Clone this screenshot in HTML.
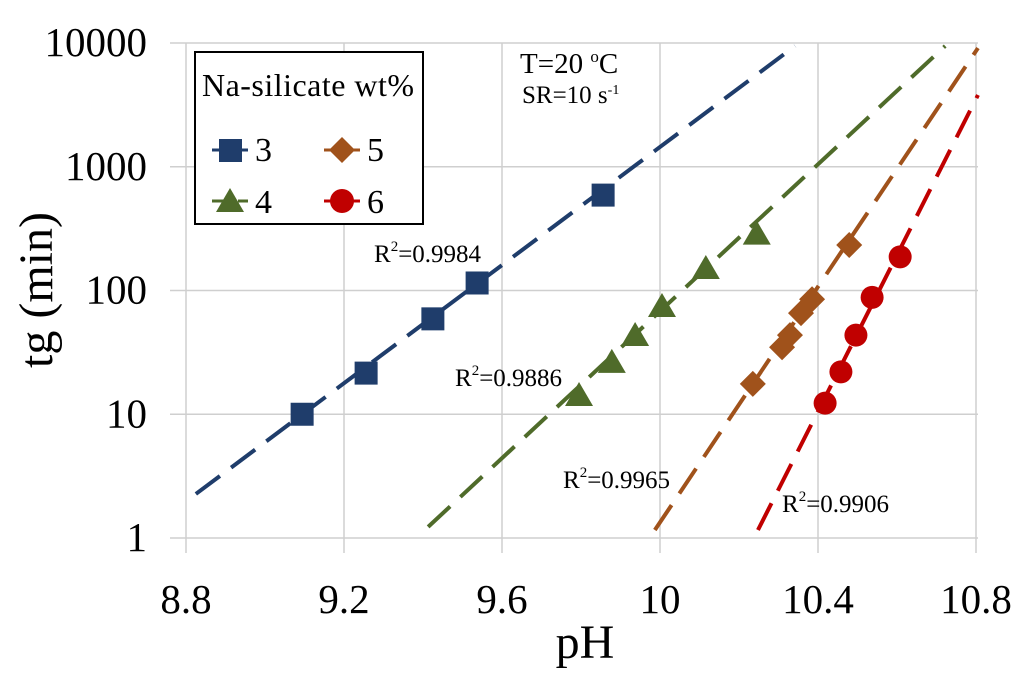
<!DOCTYPE html>
<html><head><meta charset="utf-8"><style>
body{margin:0;background:#fff}
svg text{font-family:"Liberation Serif",serif;fill:#000}
</style></head><body>
<svg id="c" width="1024" height="678" viewBox="0 0 1024 678">
<g id="grid"></g>
<g id="axes"></g>
<g id="series"></g>
<text x="52" y="290" font-size="48" text-anchor="middle" transform="rotate(-90 52 290)">tg (min)</text>
<text x="585" y="658" font-size="48" text-anchor="middle">pH</text>
<g>
<rect x="195" y="52" width="228" height="172" fill="#fff" stroke="#000" stroke-width="2"/>
<text x="308" y="96" font-size="32" text-anchor="middle" textLength="212">Na-silicate wt%</text>
<g><line x1="212" y1="150" x2="248" y2="150" stroke="#1f3d6b" stroke-width="3" stroke-dasharray="22 4"/><rect x="219" y="139" width="23" height="23" fill="#1f3d6b"/><text x="255" y="161" font-size="34">3</text></g>
<g><line x1="324" y1="150" x2="360" y2="150" stroke="#a0521b" stroke-width="3" stroke-dasharray="22 4"/><polygon points="342,137 355,150 342,163 329,150" fill="#a0521b"/><text x="367" y="161" font-size="34">5</text></g>
<g><line x1="212" y1="201" x2="248" y2="201" stroke="#4f6b2a" stroke-width="3" stroke-dasharray="22 4"/><polygon points="230,188 244,212 216,212" fill="#4f6b2a"/><text x="255" y="213" font-size="34">4</text></g>
<g><line x1="324" y1="201" x2="360" y2="201" stroke="#c00000" stroke-width="3" stroke-dasharray="22 4"/><circle cx="342" cy="201" r="12" fill="#c00000"/><text x="367" y="213" font-size="34">6</text></g>
</g>
<text x="520" y="73" font-size="29">T=20 <tspan font-size="17" dy="-11">o</tspan><tspan dy="11">C</tspan></text>
<text x="522" y="103" font-size="25">SR=10 s<tspan font-size="14" dy="-9">-1</tspan></text>
<text x="374" y="262" font-size="25">R<tspan font-size="15" dy="-11">2</tspan><tspan dy="11">=0.9984</tspan></text>
<text x="455" y="386" font-size="25">R<tspan font-size="15" dy="-11">2</tspan><tspan dy="11">=0.9886</tspan></text>
<text x="563" y="488" font-size="25">R<tspan font-size="15" dy="-11">2</tspan><tspan dy="11">=0.9965</tspan></text>
<text x="782" y="512" font-size="25">R<tspan font-size="15" dy="-11">2</tspan><tspan dy="11">=0.9906</tspan></text>
</svg>
<script>
const xTicks=[8.8,9.2,9.6,10,10.4,10.8];
const yTicks=[1,10,100,1000,10000];
const ph3=[9.094,9.256,9.425,9.537,9.856];
const tg3=[10,21.5,59,115,590];
const ph4=[9.795,9.878,9.937,10.005,10.116,10.245];
const tg4=[14.3,26.5,43.7,75,152,288];
const ph5=[10.235,10.309,10.329,10.357,10.385,10.479];
const tg5=[17.6,34.8,43.6,65.6,85,233];
const ph6=[10.418,10.458,10.496,10.537,10.608];
const tg6=[12.3,22,43.6,88,187];
const fitPh3=[8.825,10.342], fitTg3=[2.27,9460];
const fitPh4=[9.413,10.722], fitTg4=[1.23,9460];
const fitPh5=[9.987,10.805], fitTg5=[1.16,9100];
const fitPh6=[10.248,10.805], fitTg6=[1.16,3800];
const X=v=>186+(v-8.8)/2*790;
const Y=v=>538-Math.log10(v)*123.75;
const NS='http://www.w3.org/2000/svg';
function mk(p,t,a){const e=document.createElementNS(NS,t);for(const k in a)e.setAttribute(k,a[k]);p.appendChild(e);return e;}
const grid=document.getElementById('grid'),axes=document.getElementById('axes'),ser=document.getElementById('series');
yTicks.forEach(v=>{
 const l=mk(grid,'line',{x1:170,x2:978,y1:Y(v),y2:Y(v),stroke:'#cfcfcf','stroke-width':1.5});
 
 
 const t=mk(axes,'text',{x:147,y:Y(v)+13,'font-size':41,'text-anchor':'end'});t.textContent=v;
 
 
});
xTicks.forEach(v=>{
 const l=mk(grid,'line',{x1:X(v),x2:X(v),y1:43,y2:553,stroke:'#cfcfcf','stroke-width':1.5});
 
 
 const t=mk(axes,'text',{x:X(v),y:613,'font-size':41,'text-anchor':'middle'});t.textContent=v;
 
 
});
const series=[
 [ph3,tg3,fitPh3,fitTg3,'#1f3d6b','square','3'],
 [ph4,tg4,fitPh4,fitTg4,'#4f6b2a','triangle','4'],
 [ph5,tg5,fitPh5,fitTg5,'#a0521b','diamond','5'],
 [ph6,tg6,fitPh6,fitTg6,'#c00000','circle','6']];
series.forEach(([px,ty,fx,fy,c,m,n])=>{
 const l=mk(ser,'line',{x1:X(fx[0]),y1:Y(fy[0]),x2:X(fx[1]),y2:Y(fy[1]),stroke:c,'stroke-width':4,'stroke-dasharray':'30 14'});
 
 
 px.forEach((p,i)=>{
  const x=X(p),y=Y(ty[i]);let e;
  if(m==='square')e=mk(ser,'rect',{x:x-11.5,y:y-11.5,width:23,height:23,fill:c});
  else if(m==='triangle')e=mk(ser,'polygon',{points:`${x},${y-13} ${x+14},${y+11} ${x-14},${y+11}`,fill:c});
  else if(m==='diamond')e=mk(ser,'polygon',{points:`${x},${y-13} ${x+13},${y} ${x},${y+13} ${x-13},${y}`,fill:c});
  else e=mk(ser,'circle',{cx:x,cy:y,r:11.5,fill:c});
  
  
 });
});
</script>
</body></html>
